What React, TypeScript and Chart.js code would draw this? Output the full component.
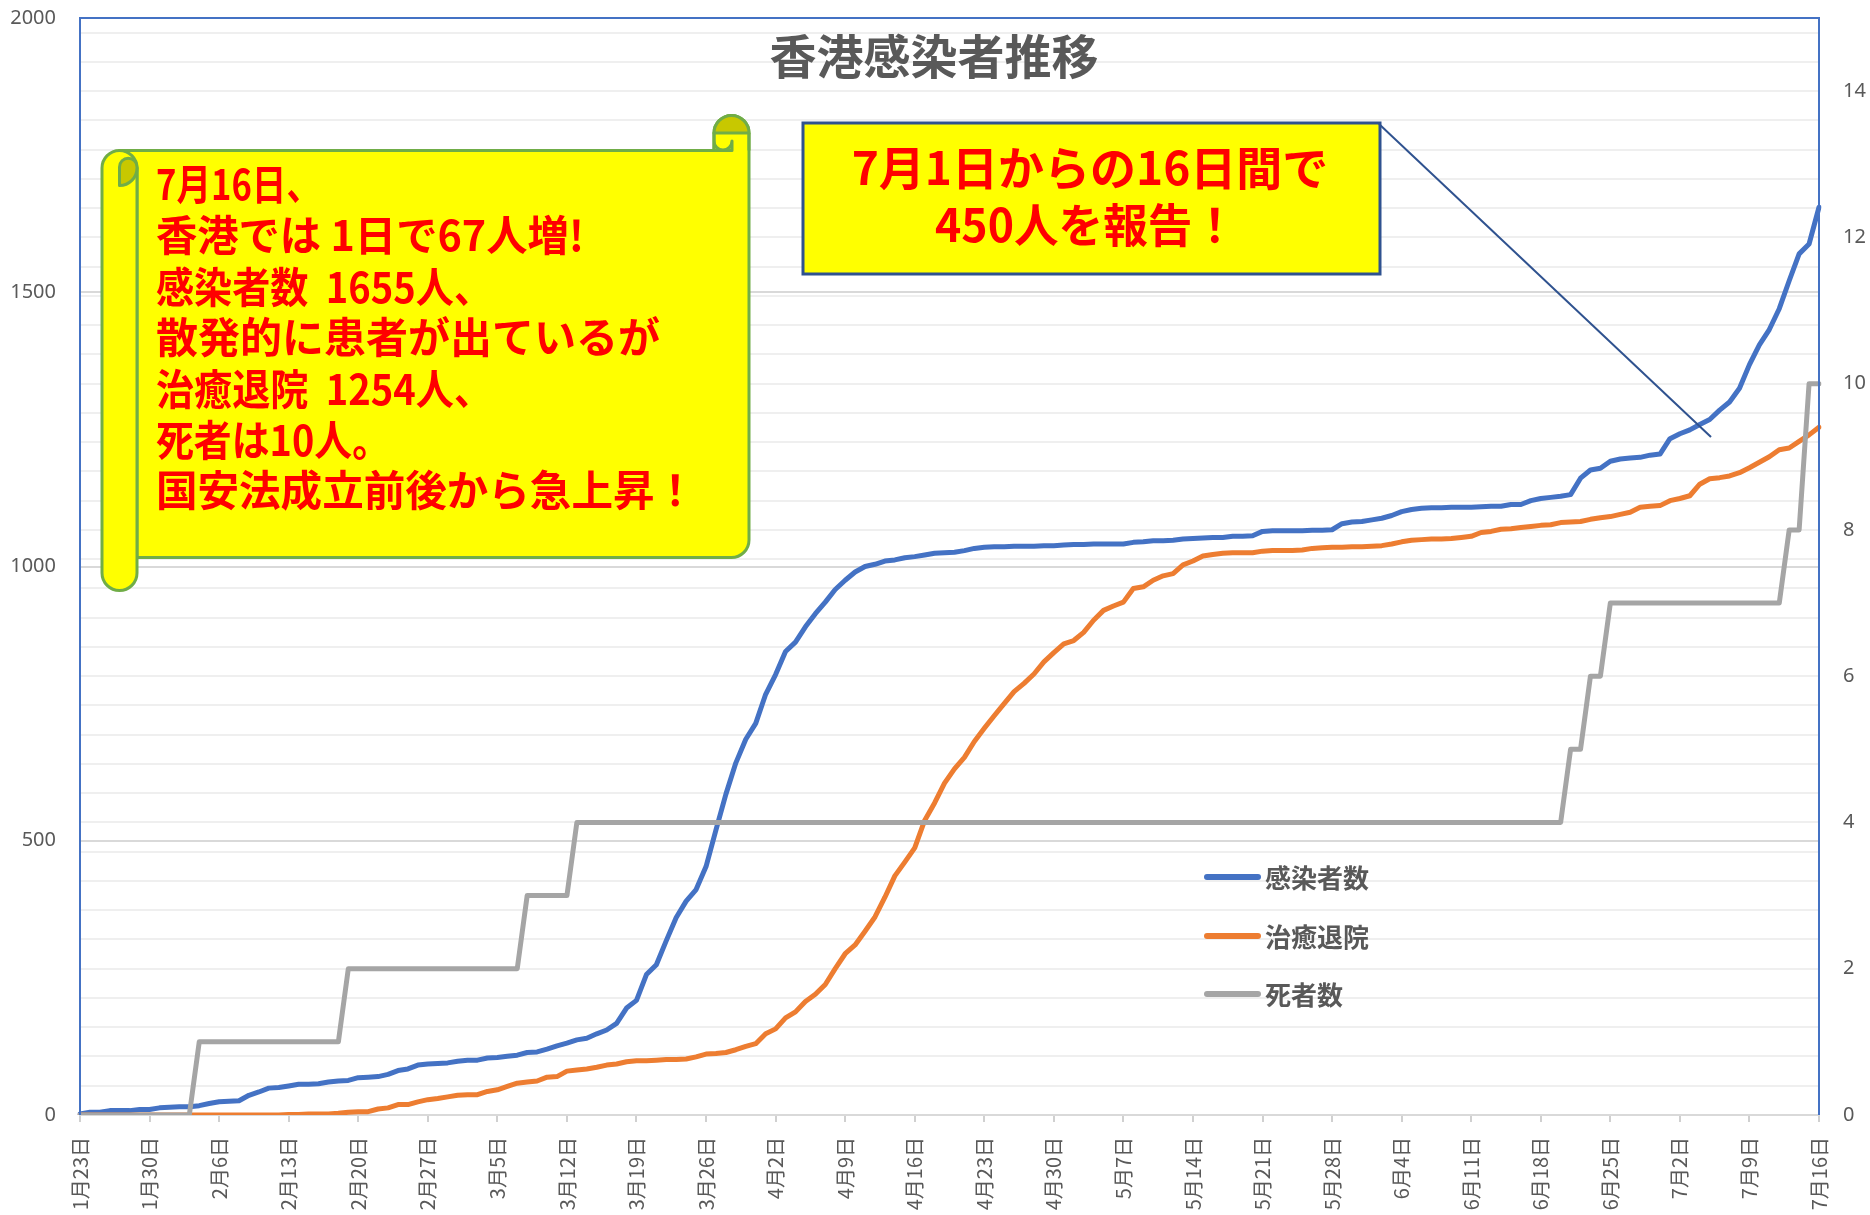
import React, { useEffect, useRef } from 'react';
import { Chart, registerables } from 'chart.js';

Chart.register(...registerables);

// ---------- data ----------
const dayLabels: string[] = (() => {
  const out: string[] = [];
  const d = new Date(2020, 0, 23);
  for (let i = 0; i < 176; i++) {
    out.push(`${d.getMonth() + 1}月${d.getDate()}日`);
    d.setDate(d.getDate() + 1);
  }
  return out;
})();

const weeklyTickLabels = [
  '1月23日', '1月30日', '2月6日', '2月13日', '2月20日', '2月27日', '3月5日', '3月12日', '3月19日',
  '3月26日', '4月2日', '4月9日', '4月16日', '4月23日', '4月30日', '5月7日', '5月14日', '5月21日',
  '5月28日', '6月4日', '6月11日', '6月18日', '6月25日', '7月2日', '7月9日', '7月16日',
];

const infected = [
  2, 5, 5, 8, 8, 8, 10, 10, 13, 14,
  15, 15, 17, 21, 24, 25, 26, 36, 42, 49,
  50, 53, 56, 56, 57, 60, 62, 63, 68, 69,
  70, 74, 81, 84, 91, 93, 94, 95, 98, 100,
  100, 104, 105, 107, 109, 114, 115, 120, 126, 131,
  137, 140, 148, 155, 167, 195, 209, 256, 274, 318,
  360, 390, 411, 453, 520, 585, 642, 685, 714, 767,
  803, 845, 862, 890, 914, 935, 958, 975, 990, 1000,
  1004, 1010, 1012, 1016, 1018, 1021, 1024, 1025, 1026, 1029,
  1033, 1035, 1036, 1036, 1037, 1037, 1037, 1038, 1038, 1039,
  1040, 1040, 1041, 1041, 1041, 1041, 1044, 1045, 1047, 1047,
  1048, 1050, 1051, 1052, 1053, 1053, 1055, 1055, 1056, 1064,
  1065, 1065, 1065, 1065, 1066, 1066, 1067, 1078, 1081, 1082,
  1085, 1088, 1093, 1100, 1104, 1106, 1107, 1107, 1108, 1108,
  1108, 1109, 1110, 1110, 1113, 1113, 1120, 1124, 1126, 1128,
  1131, 1161, 1176, 1179, 1192, 1196, 1198, 1199, 1203, 1205,
  1233, 1242, 1249, 1259, 1268, 1285, 1300, 1325, 1368, 1404,
  1432, 1470, 1521, 1570, 1588, 1655,
];

const recovered = [
  0, 0, 0, 0, 0, 0, 0, 0, 0, 0,
  0, 0, 0, 0, 0, 0, 0, 0, 0, 0,
  0, 1, 1, 2, 2, 2, 3, 5, 6, 6,
  11, 13, 19, 19, 24, 28, 30, 33, 36, 37,
  37, 43, 46, 52, 58, 60, 62, 69, 70, 80,
  82, 84, 87, 91, 93, 97, 99, 99, 100, 101,
  101, 102, 106, 111, 112, 114, 119, 125, 130, 148,
  157, 177, 188, 207, 220, 238, 267, 294, 310, 335,
  361, 397, 436, 461, 487, 537, 569, 605, 631, 652,
  681, 705, 728, 750, 772, 787, 804, 826, 843, 859,
  865, 880, 902, 920, 928, 935, 960, 963, 975, 983,
  987, 1003, 1010, 1019, 1022, 1024, 1025, 1025, 1025, 1028,
  1029, 1029, 1029, 1030, 1033, 1034, 1035, 1035, 1036, 1036,
  1037, 1038, 1041, 1045, 1048, 1049, 1050, 1050, 1051, 1053,
  1055, 1062, 1064, 1068, 1069, 1071, 1073, 1075, 1076, 1080,
  1081, 1082, 1086, 1089, 1091, 1095, 1099, 1108, 1110, 1111,
  1120, 1124, 1129, 1150, 1160, 1162, 1165, 1171, 1180, 1190,
  1200, 1213, 1216, 1228, 1240, 1254,
];

const deaths = [
  0, 0, 0, 0, 0, 0, 0, 0, 0, 0,
  0, 0, 1, 1, 1, 1, 1, 1, 1, 1,
  1, 1, 1, 1, 1, 1, 1, 2, 2, 2,
  2, 2, 2, 2, 2, 2, 2, 2, 2, 2,
  2, 2, 2, 2, 2, 3, 3, 3, 3, 3,
  4, 4, 4, 4, 4, 4, 4, 4, 4, 4,
  4, 4, 4, 4, 4, 4, 4, 4, 4, 4,
  4, 4, 4, 4, 4, 4, 4, 4, 4, 4,
  4, 4, 4, 4, 4, 4, 4, 4, 4, 4,
  4, 4, 4, 4, 4, 4, 4, 4, 4, 4,
  4, 4, 4, 4, 4, 4, 4, 4, 4, 4,
  4, 4, 4, 4, 4, 4, 4, 4, 4, 4,
  4, 4, 4, 4, 4, 4, 4, 4, 4, 4,
  4, 4, 4, 4, 4, 4, 4, 4, 4, 4,
  4, 4, 4, 4, 4, 4, 4, 4, 4, 4,
  5, 5, 6, 6, 7, 7, 7, 7, 7, 7,
  7, 7, 7, 7, 7, 7, 7, 7, 7, 7,
  7, 7, 8, 8, 10, 10,
];

const seriesNames = ['感染者数', '治癒退院', '死者数'];
const seriesColors = ['#4472C4', '#ED7D31', '#A5A5A5'];

const chartTitle = '香港感染者推移';
const scrollLines = [
  '7月16日、',
  '香港では 1日で67人増!',
  '感染者数  1655人、',
  '散発的に患者が出ているが',
  '治癒退院  1254人、',
  '死者は10人。',
  '国安法成立前後から急上昇！',
];
const boxLines = ['7月1日からの16日間で', '450人を報告！'];

const JP = "'Noto Sans CJK JP', 'Noto Sans', sans-serif";
const AX = "'Noto Sans', 'Noto Sans CJK JP', sans-serif";

// ---------- overlay drawing ----------
function drawScroll(ctx: CanvasRenderingContext2D) {
  const yellow = '#FFFF00';
  const dark = '#C8C800';
  const green = '#70AD47';
  ctx.save();
  ctx.lineWidth = 3;
  ctx.strokeStyle = green;
  ctx.lineJoin = 'round';

  // main panel
  ctx.beginPath();
  ctx.moveTo(119.5, 150.5);
  ctx.lineTo(714, 150.5);
  ctx.lineTo(714, 133);
  ctx.arc(731.5, 133, 17.5, Math.PI, 0, false);
  ctx.lineTo(749, 540);
  ctx.arc(731.5, 540, 17.5, 0, Math.PI / 2, false);
  ctx.lineTo(137, 557.5);
  ctx.lineTo(137, 168);
  ctx.closePath();
  ctx.fillStyle = yellow;
  ctx.fill();
  ctx.stroke();

  // top right curl (dark part)
  ctx.beginPath();
  ctx.arc(731.5, 133, 17.5, Math.PI, 0, false);
  ctx.lineTo(749, 133);
  ctx.closePath();
  ctx.fillStyle = dark;
  ctx.fill();
  ctx.stroke();
  ctx.beginPath();
  ctx.moveTo(714, 133);
  ctx.lineTo(714, 150.5);
  ctx.lineTo(732, 150.5);
  ctx.lineTo(732, 141);
  ctx.arc(723, 141, 9, 0, Math.PI, false);
  ctx.closePath();
  ctx.fillStyle = yellow;
  ctx.fill();
  ctx.stroke();
  ctx.beginPath();
  ctx.moveTo(749, 133);
  ctx.lineTo(749, 150.5);
  ctx.stroke();

  // left roll
  ctx.beginPath();
  ctx.moveTo(102, 168);
  ctx.arc(119.5, 168, 17.5, Math.PI, 0, false);
  ctx.lineTo(137, 573);
  ctx.arc(119.5, 573, 17.5, 0, Math.PI, false);
  ctx.closePath();
  ctx.fillStyle = yellow;
  ctx.fill();
  ctx.stroke();

  // top-left inner curl
  ctx.beginPath();
  ctx.moveTo(119.5, 185.5);
  ctx.lineTo(119.5, 167);
  ctx.arc(128.25, 167, 8.75, Math.PI, 0, false);
  ctx.arc(119.5, 168, 17.5, 0, Math.PI / 2, false);
  ctx.closePath();
  ctx.fillStyle = dark;
  ctx.fill();
  ctx.stroke();
  ctx.restore();

  // text
  ctx.save();
  ctx.fillStyle = '#FF0000';
  ctx.font = `bold 42px ${JP}`;
  ctx.textAlign = 'left';
  ctx.textBaseline = 'middle';
  const ys = [184, 235, 287, 337, 389, 440, 490];
  const ws = [165, 428, 336, 512, 336, 234, 540];
  scrollLines.forEach((t, i) => ctx.fillText(t, 156, ys[i], ws[i]));
  ctx.restore();
}

function drawBox(ctx: CanvasRenderingContext2D) {
  ctx.save();
  ctx.fillStyle = '#FFFF00';
  ctx.fillRect(803, 123, 577, 151);
  ctx.strokeStyle = '#2F528F';
  ctx.lineWidth = 3;
  ctx.strokeRect(803, 123, 577, 151);
  // connector
  ctx.lineWidth = 2;
  ctx.beginPath();
  ctx.moveTo(1379, 124);
  ctx.lineTo(1711, 437);
  ctx.stroke();
  ctx.fillStyle = '#FF0000';
  ctx.font = `bold 46px ${JP}`;
  ctx.textAlign = 'center';
  ctx.textBaseline = 'middle';
  ctx.fillText(boxLines[0], 1090, 168, 480);
  ctx.fillText(boxLines[1], 1086, 225, 302);
  ctx.restore();
}

const overlayPlugin = {
  id: 'overlay',
  afterDatasetsDraw(chart: any) {
    const ctx: CanvasRenderingContext2D = chart.ctx;
    const a = chart.chartArea;
    ctx.save();
    // plot-area border (blue)
    ctx.strokeStyle = '#4472C4';
    ctx.lineWidth = 2;
    ctx.beginPath();
    ctx.moveTo(a.left, a.bottom);
    ctx.lineTo(a.left, a.top);
    ctx.lineTo(a.right, a.top);
    ctx.lineTo(a.right, a.bottom);
    ctx.stroke();

    // title
    ctx.fillStyle = '#595959';
    ctx.font = `bold 47px ${JP}`;
    ctx.textAlign = 'center';
    ctx.textBaseline = 'middle';
    ctx.fillText(chartTitle, 934, 56, 336);

    // legend
    const ly = [877, 936, 994];
    ctx.lineCap = 'round';
    ctx.lineWidth = 6;
    ctx.font = `bold 26px ${JP}`;
    ctx.textAlign = 'left';
    seriesNames.forEach((n, i) => {
      ctx.strokeStyle = seriesColors[i];
      ctx.beginPath();
      ctx.moveTo(1207, ly[i]);
      ctx.lineTo(1258, ly[i]);
      ctx.stroke();
      ctx.fillStyle = '#595959';
      ctx.fillText(n, 1265, ly[i] + 1);
    });
    ctx.restore();

    drawScroll(ctx);
    drawBox(ctx);
  },
};

export default function App() {
  const ref = useRef<HTMLCanvasElement | null>(null);
  useEffect(() => {
    const canvas = ref.current!;
    const chart = new Chart(canvas, {
      type: 'line',
      data: {
        labels: dayLabels,
        datasets: [
          { label: seriesNames[0], data: infected, yAxisID: 'y' },
          { label: seriesNames[1], data: recovered, yAxisID: 'y' },
          { label: seriesNames[2], data: deaths, yAxisID: 'y1' },
        ].map((d, i) => ({
          ...d,
          borderColor: seriesColors[i],
          backgroundColor: seriesColors[i],
          borderWidth: 5,
          pointRadius: 0,
          tension: 0,
          fill: false,
          borderCapStyle: 'round' as const,
          borderJoinStyle: 'round' as const,
          order: 3 - i,
        })),
      },
      options: {
        animation: false,
        responsive: false,
        maintainAspectRatio: false,
        layout: { padding: { top: 0, left: 0, right: 0, bottom: 0 } },
        plugins: {
          legend: { display: false },
          title: { display: false },
          tooltip: { enabled: false },
        },
        scales: {
          x: {
            type: 'category',
            offset: false,
            grid: {
              drawOnChartArea: false,
              drawTicks: true,
              tickLength: 7,
              lineWidth: 2,
              color: (c: any) => (weeklyTickLabels.includes(dayLabels[c.index]) ? '#d0d0d0' : 'rgba(0,0,0,0)'),
            },
            border: { display: true, color: '#d9d9d9', width: 2 },
            ticks: {
              autoSkip: false,
              maxRotation: 90,
              minRotation: 90,
              padding: 15,
              color: '#595959',
              font: { size: 20, family: JP },
              callback: (_v: any, i: number) => (weeklyTickLabels.includes(dayLabels[i]) ? dayLabels[i] : ''),
            },
            afterFit: (s: any) => {
              s.height = 100;
            },
          },
          y: {
            position: 'left',
            min: 0,
            max: 2000,
            ticks: {
              stepSize: 500,
              padding: 24,
              color: '#595959',
              font: { size: 20, family: AX },
              callback: (v: any) => String(v),
            },
            grid: { color: '#d9d9d9', lineWidth: 2, drawTicks: false },
            border: { display: false },
            afterFit: (s: any) => {
              s.width = 80;
              s.paddingTop = 18;
              s.paddingBottom = 0;
            },
          },
          y1: {
            position: 'right',
            min: 0,
            max: 15,
            ticks: {
              stepSize: 0.4,
              includeBounds: false,
              padding: 24,
              color: '#595959',
              font: { size: 20, family: AX },
              callback: (v: any) => {
                const n = Number(v);
                return Math.abs(n / 2 - Math.round(n / 2)) < 1e-6 && n <= 14 ? String(Math.round(n)) : '';
              },
            },
            grid: { color: '#efefef', lineWidth: 2, drawTicks: false },
            border: { display: false },
            afterFit: (s: any) => {
              s.width = 51;
              s.paddingTop = 18;
              s.paddingBottom = 0;
            },
          },
        },
      },
      plugins: [overlayPlugin],
    } as any);
    return () => chart.destroy();
  }, []);

  return (
    <div style={{ position: 'absolute', left: 0, top: 0, width: 1870, height: 1215, background: '#fff' }}>
      <canvas ref={ref} width={1870} height={1215} style={{ width: 1870, height: 1215, display: 'block' }} />
    </div>
  );
}
